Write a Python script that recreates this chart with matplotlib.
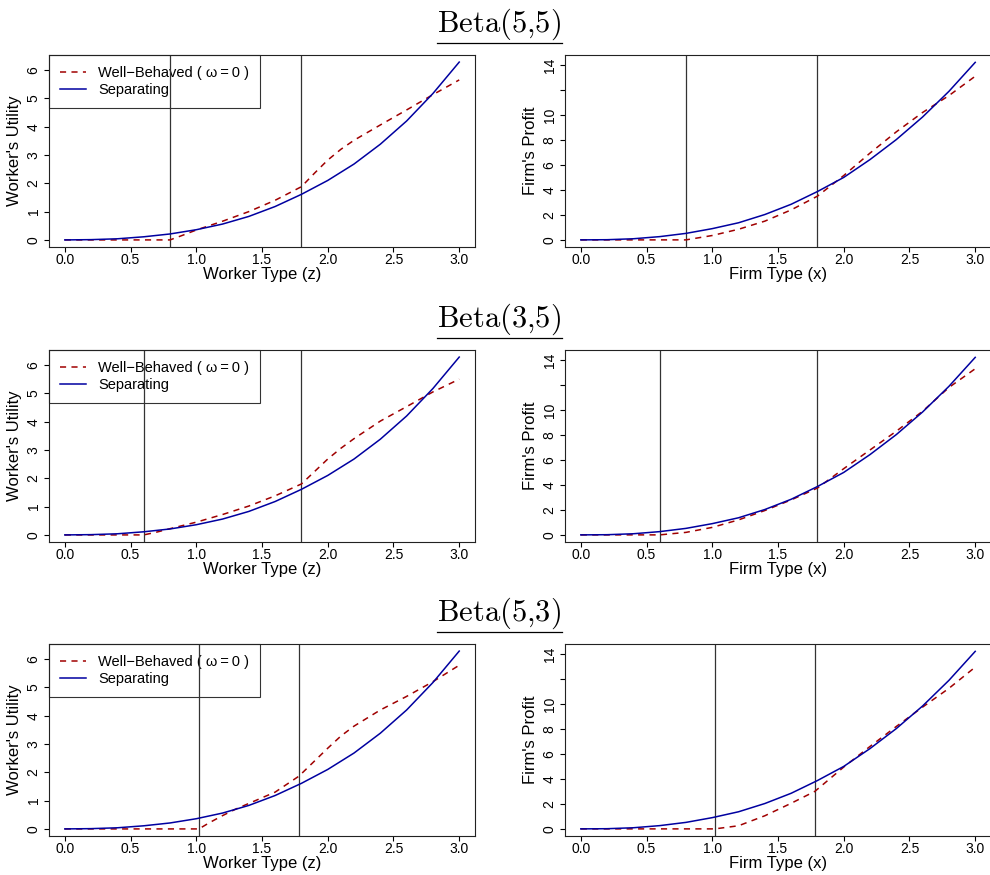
import matplotlib
matplotlib.use('Agg')
import matplotlib.pyplot as plt
from matplotlib.lines import Line2D

plt.rcParams['font.family'] = ['Liberation Sans', 'DejaVu Sans']
plt.rcParams['mathtext.fontset'] = 'cm'

# separating equilibrium (same curve in every row)
sep_x = [0.0, 0.2, 0.4, 0.6, 0.8, 1.0, 1.2, 1.4, 1.6, 1.8, 2.0, 2.2, 2.4, 2.6, 2.8, 3.0]
sep_worker = [0, 0.01, 0.04, 0.11, 0.21, 0.36, 0.56, 0.83, 1.18, 1.61, 2.1, 2.68, 3.38, 4.2, 5.17, 6.28]
sep_firm = [0, 0.014, 0.09, 0.26, 0.52, 0.9, 1.37, 2.03, 2.85, 3.87, 5.0, 6.43, 8.03, 9.84, 11.89, 14.21]

# well-behaved (omega = 0), Beta(5,5)
wb55_wx = [0, 0.8, 0.9, 1.0, 1.2, 1.4, 1.6, 1.8, 1.9, 2.0, 2.1, 2.2, 2.4, 2.6, 2.8, 3.0]
wb55_wy = [0, 0, 0.17, 0.35, 0.66, 1.0, 1.4, 1.88, 2.36, 2.82, 3.2, 3.52, 4.06, 4.59, 5.13, 5.65]
wb55_fx = [0, 0.8, 1.0, 1.2, 1.4, 1.6, 1.8, 2.0, 2.2, 2.4, 2.6, 2.8, 3.0]
wb55_fy = [0, 0, 0.35, 0.85, 1.5, 2.4, 3.5, 5.15, 6.95, 8.65, 10.2, 11.55, 13.1]

# Beta(3,5)
wb35_wx = [0, 0.6, 0.7, 0.8, 1.0, 1.2, 1.4, 1.6, 1.8, 1.9, 2.0, 2.1, 2.2, 2.4, 2.6, 2.8, 3.0]
wb35_wy = [0, 0, 0.1, 0.22, 0.45, 0.72, 1.02, 1.38, 1.8, 2.24, 2.68, 3.06, 3.4, 4.02, 4.53, 5.05, 5.5]
wb35_fx = [0, 0.6, 0.8, 1.0, 1.2, 1.4, 1.6, 1.8, 2.0, 2.2, 2.4, 2.6, 2.8, 3.0]
wb35_fy = [0, 0, 0.2, 0.6, 1.2, 1.95, 2.8, 3.75, 5.3, 6.8, 8.3, 9.9, 11.8, 13.3]

# Beta(5,3)
wb53_wx = [0, 1.02, 1.1, 1.2, 1.3, 1.4, 1.6, 1.78, 1.9, 2.0, 2.1, 2.2, 2.4, 2.6, 2.8, 3.0]
wb53_wy = [0, 0, 0.22, 0.47, 0.7, 0.9, 1.3, 1.86, 2.4, 2.85, 3.28, 3.63, 4.2, 4.68, 5.2, 5.78]
wb53_fx = [0, 1.02, 1.2, 1.4, 1.6, 1.78, 2.0, 2.2, 2.4, 2.6, 2.8, 3.0]
wb53_fy = [0, 0, 0.25, 1.05, 2.05, 3.0, 4.95, 6.6, 8.2, 9.75, 11.25, 12.95]

titles = ['Beta(5,5)', 'Beta(3,5)', 'Beta(5,3)']
cut_lo = [0.8, 0.6, 1.02]
cut_hi = [1.8, 1.8, 1.78]
wb_worker = [(wb55_wx, wb55_wy), (wb35_wx, wb35_wy), (wb53_wx, wb53_wy)]
wb_firm = [(wb55_fx, wb55_fy), (wb35_fx, wb35_fy), (wb53_fx, wb53_fy)]

xticks = [0.0, 0.5, 1.0, 1.5, 2.0, 2.5, 3.0]
wticks = [0, 1, 2, 3, 4, 5, 6]
fticks = [0, 2, 4, 6, 8, 10, 12, 14]
flabels = ['0', '2', '4', '6', '8', '10', '', '14']

RED = '#A00000'
BLUE = '#0000A0'

W, H = 990.0, 875.0
fig = plt.figure(figsize=(9.9, 8.75), dpi=100)

row_top = [55, 350, 644]
ax_h = 192
ax_w = 426


def style(ax, ylab, yt, ylabs):
    ax.set_xlim(-0.12, 3.12)
    ax.set_xticks(xticks)
    ax.set_xticklabels(['%.1f' % t for t in xticks])
    ax.set_yticks(yt)
    ax.set_yticklabels(ylabs)
    ax.tick_params(direction='out', length=3.6, width=0.8, labelsize=10, pad=1)
    ax.tick_params(axis='y', labelrotation=90, pad=2.5)
    for lab in ax.get_yticklabels():
        lab.set_va('center')
    for s in ax.spines.values():
        s.set_linewidth(0.8)
        s.set_color('#222222')
    ax.set_ylabel(ylab, fontsize=12, labelpad=3)


for i in range(3):
    top = row_top[i]
    b = 1 - (top + ax_h) / H
    axw = fig.add_axes([49 / W, b, ax_w / W, ax_h / H])
    axf = fig.add_axes([565 / W, b, ax_w / W, ax_h / H])

    # worker panel
    wx, wy = wb_worker[i]
    axw.plot(wx, wy, color=RED, lw=1.1, dashes=(4, 3.5),
             label='Well\u2212Behaved ( \u03c9\u2009=\u20090 )', zorder=3)
    axw.plot(sep_x, sep_worker, color=BLUE, lw=1.1, label='Separating', zorder=3)
    axw.axvline(cut_lo[i], color='#333333', lw=0.9, zorder=2)
    axw.axvline(cut_hi[i], color='#333333', lw=0.9, zorder=2)
    axw.set_ylim(-0.25, 6.53)
    style(axw, "Worker's Utility", wticks, [str(t) for t in wticks])
    axw.set_xlabel('Worker Type (z)', fontsize=12, labelpad=0)
    leg = axw.legend(loc='upper left', borderaxespad=0, fancybox=False, fontsize=10.5,
                     handlelength=1.8, handletextpad=0.8, borderpad=0.75,
                     labelspacing=0.2, edgecolor='black', facecolor='none', framealpha=None)
    leg.get_frame().set_linewidth(0.8)
    leg.set_zorder(1)

    # firm panel
    fx, fy = wb_firm[i]
    axf.plot(fx, fy, color=RED, lw=1.1, dashes=(4, 3.5), zorder=3)
    axf.plot(sep_x, sep_firm, color=BLUE, lw=1.1, zorder=3)
    axf.axvline(cut_lo[i], color='#333333', lw=0.9, zorder=2)
    axf.axvline(cut_hi[i], color='#333333', lw=0.9, zorder=2)
    axf.set_ylim(-0.57, 14.8)
    style(axf, "Firm's Profit", fticks, flabels)
    axf.set_xlabel('Firm Type (x)', fontsize=12, labelpad=0)

# panel titles with underline
title_texts = []
for i in range(3):
    base = row_top[i] - 23
    a, c = titles[i].split('(')
    t = fig.text(499.5 / W, 1 - base / H, r'$\mathrm{%s}(%s)$' % (a, c[:-1].replace(',', '{,}')),
                 ha='center', va='baseline', fontsize=22)
    title_texts.append(t)

fig.canvas.draw()
for i, t in enumerate(title_texts):
    bb = t.get_window_extent()
    yl = 1 - (row_top[i] - 12) / H
    fig.add_artist(Line2D([bb.x0 / W, bb.x1 / W], [yl, yl], transform=fig.transFigure,
                          color='black', lw=0.9))

fig.savefig('out.png', dpi=100)
